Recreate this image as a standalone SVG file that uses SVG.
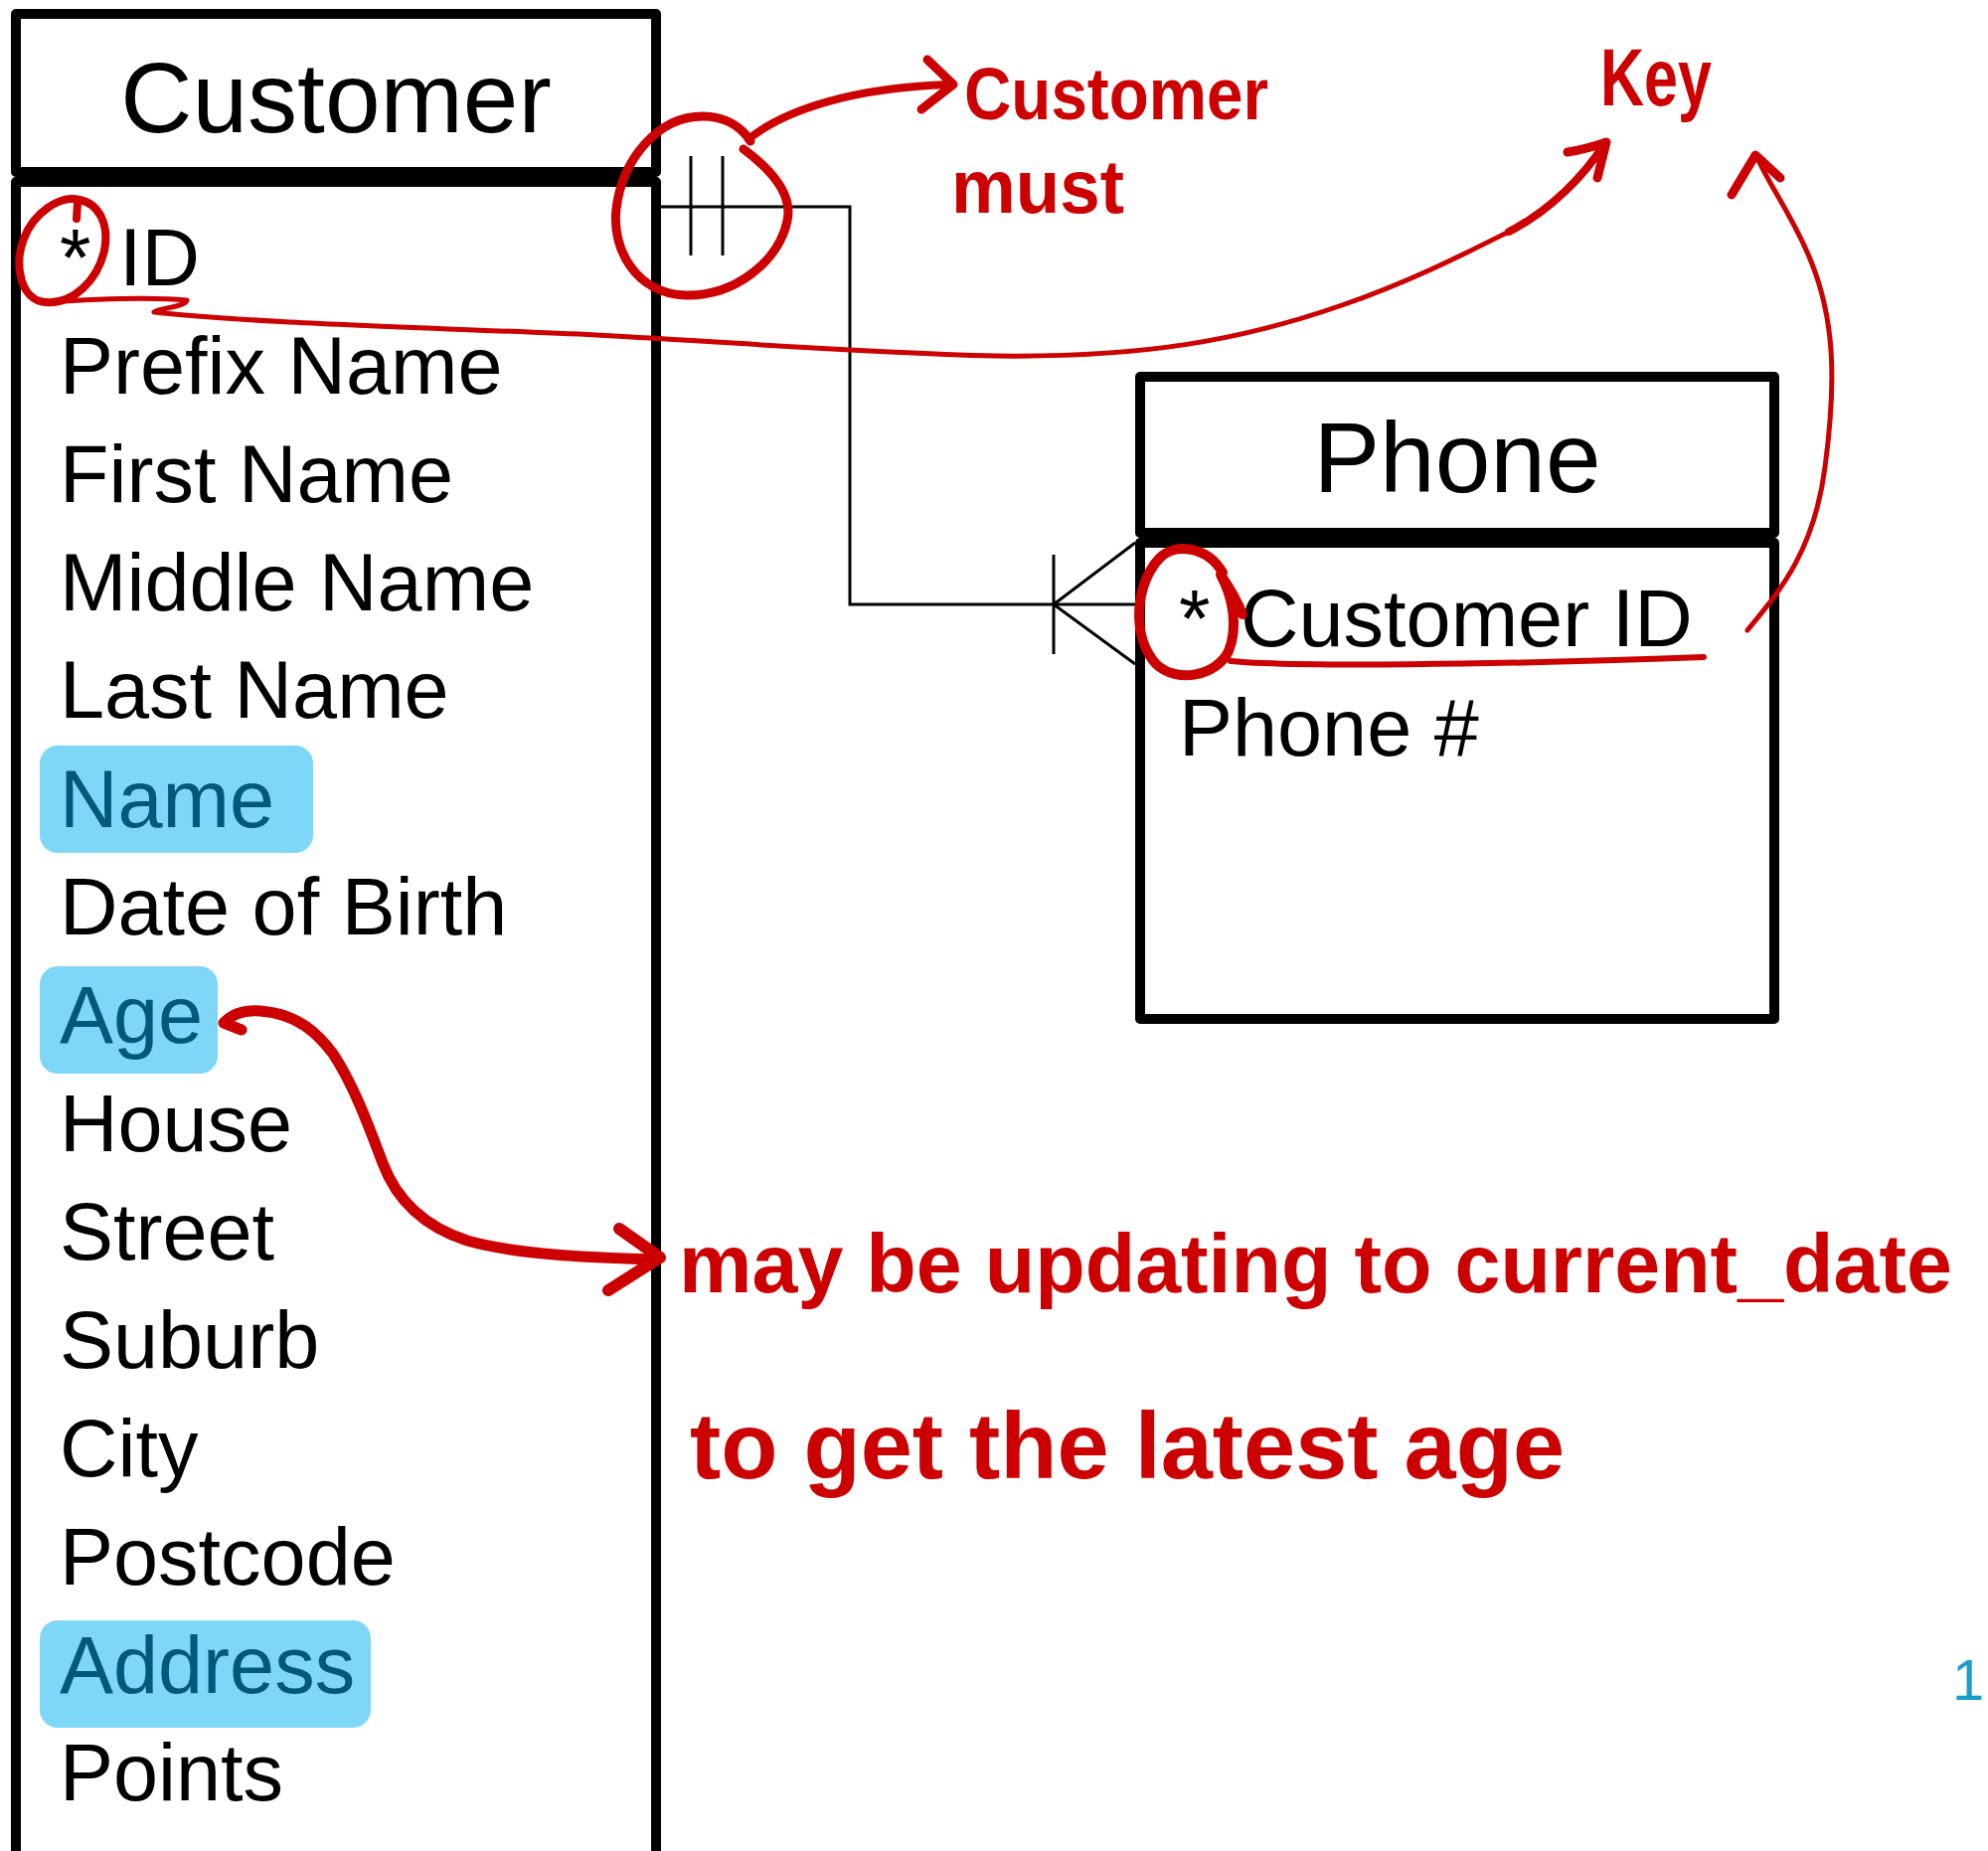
<svg xmlns="http://www.w3.org/2000/svg" width="2000" height="1862" viewBox="0 0 2000 1862">
<style>
.box{fill:none;stroke:#000;stroke-width:10;stroke-linejoin:round}
.title{font-family:"Liberation Sans",Arial,sans-serif;font-size:100px;fill:#000;text-anchor:middle}
.attr{font-family:"Liberation Sans",Arial,sans-serif;font-size:81px;fill:#000}
.hl{fill:#7fd7f7}
.hlt{fill:#00587a}
.conn{fill:none;stroke:#000;stroke-width:3}
.ink{fill:none;stroke:#cc0000;stroke-linecap:round;stroke-linejoin:round}
.inktext{font-family:"Liberation Sans",Arial,sans-serif;font-weight:bold;fill:#cc0000}
</style>
<rect width="2000" height="1862" fill="#fff"/>

<g id="customer">
  <rect class="box" x="16" y="14" width="644" height="159"/>
  <rect class="box" x="16" y="183" width="644" height="1760"/>
  <text class="title" x="338" y="133" font-size="101">Customer</text>
  <rect class="hl" x="40" y="750" width="275" height="108" rx="18"/>
  <rect class="hl" x="40" y="972" width="179" height="108" rx="18"/>
  <rect class="hl" x="40" y="1630" width="333" height="108" rx="18"/>
  <text class="attr" x="60" y="287">* <tspan dx="6">ID</tspan></text>
  <text class="attr" x="60" y="396">Prefix Name</text>
  <text class="attr" x="60" y="505">First Name</text>
  <text class="attr" x="60" y="614">Middle Name</text>
  <text class="attr" x="60" y="722">Last Name</text>
  <text class="attr hlt" x="60" y="832">Name</text>
  <text class="attr" x="60" y="940">Date of Birth</text>
  <text class="attr hlt" x="60" y="1049">Age</text>
  <text class="attr" x="60" y="1158">House</text>
  <text class="attr" x="60" y="1267">Street</text>
  <text class="attr" x="60" y="1376">Suburb</text>
  <text class="attr" x="60" y="1485">City</text>
  <text class="attr" x="60" y="1594">Postcode</text>
  <text class="attr hlt" x="60" y="1703">Address</text>
  <text class="attr" x="60" y="1811">Points</text>
</g>

<g id="phone">
  <rect class="box" x="1147" y="379" width="638" height="157"/>
  <rect class="box" x="1147" y="546" width="638" height="479"/>
  <text class="title" x="1466" y="495" font-size="98">Phone</text>
  <text class="attr" x="1186" y="650">* <tspan dx="8">Customer ID</tspan></text>
  <text class="attr" x="1186" y="760">Phone #</text>
</g>

<g id="connectors">
  <path class="conn" d="M665,208 H855 V608 H1142"/>
  <path class="conn" d="M695,157 V257 M727,157 V257"/>
  <path class="conn" d="M1060,558 V658 M1060,608 L1142,546 M1060,608 L1142,668"/>
</g>

<g id="annotations">
  <path class="ink" stroke-width="8" d="M78,204 L77,220 M80,201 C60,196 34,214 24,240 C14,266 20,302 46,304 C74,306 98,282 105,252 C110,226 100,205 80,201"/>
  <path class="ink" stroke-width="5" d="M44,304 C90,301 150,298 188,302 C186,309 160,310 155,314 C250,325 450,330 600,337 C750,345 850,354 1002,358 C1150,360 1250,342 1350,307 C1420,283 1480,252 1520,232"/>
  <path class="ink" stroke-width="8" d="M1518,233 C1560,212 1595,175 1614,145"/>
  <path class="ink" stroke-width="9" d="M1577,153 Q1596,150 1616,143 L1607,179"/>

  <path class="ink" stroke-width="9" d="M748,150 C775,170 798,195 792,222 C784,262 740,298 690,297 C640,296 615,250 620,210 C626,160 662,117 707,117 C730,117 746,128 755,142"/>
  <path class="ink" stroke-width="8" d="M753,140 C790,110 860,88 955,85"/>
  <path class="ink" stroke-width="9" d="M933,60 L959,85 L927,110"/>
  <text class="inktext" x="970" y="120" font-size="74" textLength="306" lengthAdjust="spacingAndGlyphs">Customer</text>
  <text class="inktext" x="957" y="214" font-size="76" textLength="174" lengthAdjust="spacingAndGlyphs">must</text>

  <text class="inktext" x="1610" y="106" font-size="82" textLength="112" lengthAdjust="spacingAndGlyphs">Key</text>

  <path class="ink" stroke-width="10" d="M1230,576 C1215,550 1182,545 1166,562 C1142,588 1138,640 1163,668 C1184,688 1224,680 1236,655 C1246,630 1240,600 1228,578 M1228,578 C1236,590 1245,605 1250,618"/>
  <path class="ink" stroke-width="6" d="M1238,665 C1300,671 1500,669 1714,661"/>
  <path class="ink" stroke-width="5" d="M1758,634 C1790,595 1825,555 1836,470 C1848,380 1845,320 1822,263 C1805,220 1782,190 1767,157"/>
  <path class="ink" stroke-width="9" d="M1742,196 L1766,156 L1791,179"/>

  <path class="ink" stroke-width="11" d="M243,1036 L225,1029 C235,1018 250,1016 262,1017 C300,1020 320,1040 335,1060 C355,1090 370,1130 385,1170 C400,1210 430,1235 470,1248 C520,1262 590,1265 660,1267"/>
  <path class="ink" stroke-width="12" d="M623,1236 L664,1265 L612,1298"/>
  <text class="inktext" x="683" y="1300" font-size="84" textLength="1281" lengthAdjust="spacingAndGlyphs">may be updating to current_date</text>
  <text class="inktext" x="694" y="1487" font-size="94" textLength="880" lengthAdjust="spacingAndGlyphs">to get the latest age</text>
</g>

<text x="1964" y="1710" font-family="'Liberation Sans',Arial,sans-serif" font-size="58" fill="#1a9bcb">1</text>
</svg>
